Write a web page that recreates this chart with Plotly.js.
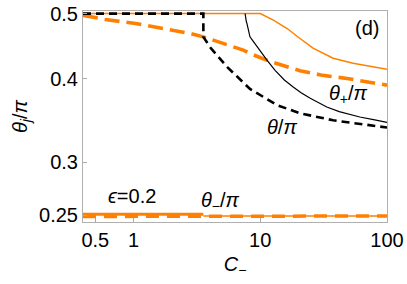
<!DOCTYPE html>
<html>
<head>
<meta charset="utf-8">
<script src="https://cdn.plot.ly/plotly-3.0.1.min.js"></script>
<style>html,body{margin:0;padding:0;background:#fff;}#chart{width:407px;height:284px;}</style>
</head>
<body>
<div id="chart"></div>
<script>
// θ+/π, ε = 0.2 (orange thin solid, top)
const plusEpsC = [0.4, 1, 3, 10, 12.7, 16.3, 20.6, 26.1, 37.6, 54, 100];
const plusEpsV = [0.5, 0.5, 0.5, 0.5, 0.489, 0.475, 0.459, 0.444, 0.429, 0.4215, 0.413];
// θ/π, ε = 0.2 (orange thick dashed, upper)
const thetaEpsC = [0.4, 0.6, 1.07, 2.0, 2.81, 3.56, 5.0, 7.35, 8.3, 12, 20.6, 30, 48.4, 70, 100];
const thetaEpsV = [0.497, 0.490, 0.483, 0.473, 0.467, 0.4616, 0.452, 0.441, 0.436, 0.424, 0.411, 0.405, 0.400, 0.395, 0.391];
// θ/π, ε = 0 (black dashed)
const thetaC = [0.4, 1, 3.56, 3.56, 4.04, 5.5, 8.3, 13.6, 20.6, 37.6, 60, 100];
const thetaV = [0.5, 0.5, 0.5, 0.4616, 0.445, 0.416, 0.386, 0.365, 0.355, 0.3465, 0.342, 0.338];
// θ+/π, ε = 0 (black thin solid)
const plusC = [7.6, 7.62, 7.68, 7.76, 7.86, 8.05, 8.3, 8.7, 9.13, 10, 11.3, 13.1, 15.5, 18.2, 21, 24.8, 29, 33.5, 42, 61, 80, 100];
const plusV = [0.5, 0.496, 0.491, 0.487, 0.483, 0.473, 0.4616, 0.456, 0.450, 0.439, 0.426, 0.4115, 0.398, 0.3885, 0.381, 0.3737, 0.368, 0.3628, 0.357, 0.3505, 0.347, 0.344];
// θ−/π, ε = 0.2 (orange, bottom)
const minusSolidLeftC = [0.4, 1, 3.56];
const minusSolidLeftV = [0.2508, 0.2508, 0.2508];
const minusSolidRightC = [3.56, 10, 100];
const minusSolidRightV = [0.2494, 0.2494, 0.2494];
const minusDashC = [0.4, 1, 3.56, 10, 100];
const minusDashV = [0.2490, 0.2490, 0.2492, 0.2494, 0.2494];

const xTickVals = [0.5, 1, 10, 100];
const xTickText = ['0.5', '1', '10', '100'];
const yTickVals = [0.25, 0.3, 0.4, 0.5];
const yTickText = ['0.25', '0.3', '0.4', '0.5'];

const ORANGE = '#ff8000';
const FONT = 'Liberation Sans, Arial, sans-serif';
const FS = 20;

const traces = [
  {x: minusDashC, y: minusDashV, mode: 'lines', line: {color: ORANGE, width: 3.5, dash: '13px,8px'}},
  {x: minusSolidLeftC, y: minusSolidLeftV, mode: 'lines', line: {color: ORANGE, width: 3}},
  {x: minusSolidRightC, y: minusSolidRightV, mode: 'lines', line: {color: ORANGE, width: 1.5}},
  {x: plusEpsC, y: plusEpsV, mode: 'lines', line: {color: ORANGE, width: 1.5}},
  {x: thetaEpsC, y: thetaEpsV, mode: 'lines', line: {color: ORANGE, width: 3.6, dash: '15px,7px'}},
  {x: plusC, y: plusV, mode: 'lines', line: {color: '#000', width: 1.2}},
  {x: thetaC, y: thetaV, mode: 'lines', line: {color: '#000', width: 2.6, dash: '8px,5px'}}
];

const ann = (text, x, y) => ({text, x, y, xref: 'paper', yref: 'paper', showarrow: false,
  xanchor: 'center', yanchor: 'middle', font: {family: FONT, size: FS, color: '#000'}});

const layout = {
  width: 407, height: 284,
  margin: {l: 83, r: 20, t: 11, b: 62, pad: 0},
  paper_bgcolor: '#fff', plot_bgcolor: '#fff',
  showlegend: false,
  font: {family: FONT, size: FS, color: '#000'},
  xaxis: {
    type: 'log', range: [Math.log10(0.4), 2],
    tickvals: xTickVals, ticktext: xTickText,
    ticks: 'inside', ticklen: 4, tickcolor: '#aaa', tickwidth: 1,
    showline: true, linecolor: '#b0b0b0', linewidth: 1, mirror: true,
    showgrid: false, zeroline: false,
    tickfont: {family: FONT, size: FS, color: '#000'},
    title: {text: '<i>C</i><sub>−</sub>', font: {family: FONT, size: FS, color: '#000'}, standoff: 6}
  },
  yaxis: {
    type: 'log', range: [Math.log10(0.2443), Math.log10(0.5045)],
    tickvals: yTickVals, ticktext: yTickText,
    ticks: 'inside', ticklen: 4, tickcolor: '#aaa', tickwidth: 1,
    showline: true, linecolor: '#b0b0b0', linewidth: 1, mirror: true,
    showgrid: false, zeroline: false,
    tickfont: {family: FONT, size: FS, color: '#000'},
    title: {text: '<i>θ<sub>j</sub></i>/<i>π</i>', font: {family: FONT, size: FS, color: '#000'}, standoff: 6}
  },
  annotations: [
    ann('(d)', 0.934, 0.920),
    ann('<i>θ</i><sub>+</sub>/<i>π</i>', 0.873, 0.605),
    ann('<i>θ</i>/<i>π</i>', 0.655, 0.449),
    ann('<i>ϵ</i>=0.2', 0.160, 0.124),
    ann('<i>θ</i><sub>−</sub>/<i>π</i>', 0.452, 0.098)
  ]
};

Plotly.newPlot('chart', traces, layout, {displayModeBar: false});
</script>
</body>
</html>
